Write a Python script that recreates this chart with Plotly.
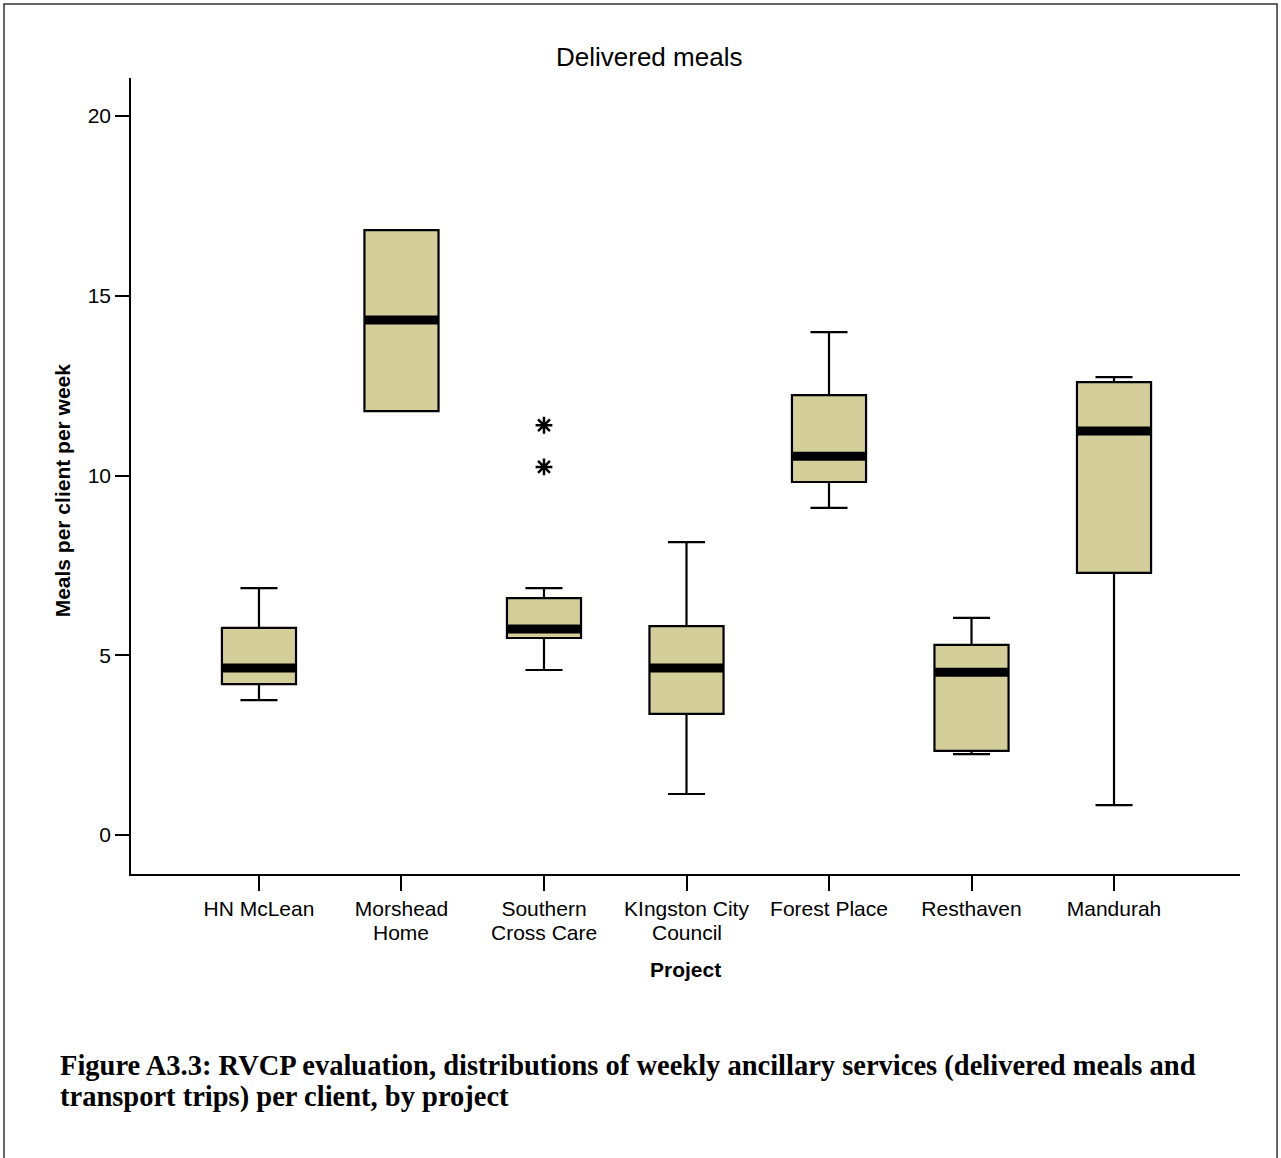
import plotly.graph_objects as go

tick_line1 = ["HN McLean", "Morshead", "Southern", "KIngston City", "Forest Place", "Resthaven", "Mandurah"]
tick_line2 = ["", "Home", "Cross Care", "Council", "", "", ""]
lower = [3.75, 11.79, 4.59, 1.14, 9.10, 2.25, 0.83]
q1 = [4.20, 11.79, 5.48, 3.37, 9.82, 2.34, 7.29]
median = [4.645, 14.33, 5.73, 4.645, 10.54, 4.53, 11.24]
q3 = [5.76, 16.83, 6.59, 5.81, 12.24, 5.29, 12.60]
upper = [6.87, 16.83, 6.87, 8.15, 13.99, 6.04, 12.74]
outlier_x = [2, 2]
outlier_y = [11.40, 10.24]

FILL = "#D3CE9A"
pos = list(range(len(tick_line1)))
BW = 0.52

fig = go.Figure()
fig.add_trace(go.Box(
    x=pos, q1=q1, median=median, q3=q3, lowerfence=lower, upperfence=upper,
    width=BW, whiskerwidth=0.5, fillcolor=FILL,
    line=dict(color="black", width=2.2), boxpoints=False, showlegend=False,
    hoverinfo="skip",
))
for i, m in zip(pos, median):
    fig.add_trace(go.Scatter(
        x=[i - BW / 2, i + BW / 2], y=[m, m], mode="lines",
        line=dict(color="black", width=9), showlegend=False, hoverinfo="skip",
    ))
fig.add_trace(go.Scatter(
    x=outlier_x, y=outlier_y, mode="markers",
    marker=dict(symbol="asterisk-open", size=14, color="black",
                line=dict(color="black", width=2.5)),
    showlegend=False, hoverinfo="skip",
))

annotations = [
    dict(text="Delivered meals", xref="paper", yref="paper", x=0.467, y=1.0264,
         xanchor="center", yanchor="middle", showarrow=False, font=dict(size=26)),
    dict(text="<b>Meals per client per week</b>", xref="paper", yref="paper",
         x=-0.0622, y=0.482, xanchor="center", yanchor="middle", textangle=-90,
         showarrow=False, font=dict(size=21)),
    dict(text="<b>Project</b>", xref="paper", yref="paper", x=0.4999, y=-0.1206,
         xanchor="center", yanchor="middle", showarrow=False, font=dict(size=21)),
    dict(text="<b>Figure A3.3: RVCP evaluation, distributions of weekly ancillary services (delivered meals and</b>",
         xref="paper", yref="paper", x=-0.0659, y=-0.2412, xanchor="left", yanchor="middle",
         showarrow=False, font=dict(family="Liberation Serif, serif", size=28.5)),
    dict(text="<b>transport trips) per client, by project</b>",
         xref="paper", yref="paper", x=-0.0659, y=-0.2801, xanchor="left", yanchor="middle",
         showarrow=False, font=dict(family="Liberation Serif, serif", size=28.5)),
]
for i, t in zip(pos, tick_line2):
    if t:
        annotations.append(dict(text=t, xref="x", yref="paper", x=i, y=-0.0729,
                                xanchor="center", yanchor="middle", showarrow=False,
                                font=dict(size=21)))

fig.update_layout(
    width=1281, height=1158,
    margin=dict(l=131, r=41, t=78, b=284),
    plot_bgcolor="white", paper_bgcolor="white",
    font=dict(family="Liberation Sans, Arial", size=21, color="black"),
    xaxis=dict(
        range=[-0.898, 6.884], tickmode="array", tickvals=pos, ticktext=tick_line1,
        showline=True, linecolor="black", linewidth=1.5, ticks="outside",
        ticklen=15, tickwidth=2, tickcolor="black", showgrid=False, zeroline=False,
        tickfont=dict(size=21),
    ),
    yaxis=dict(
        range=[-1.085, 21.06], tickvals=[0, 5, 10, 15, 20],
        showline=True, linecolor="black", linewidth=1.5, ticks="outside",
        ticklen=14, tickwidth=2, tickcolor="black", showgrid=False, zeroline=False,
        tickfont=dict(size=21),
    ),
    annotations=annotations,
    shapes=[
        dict(type="rect", xref="paper", yref="paper", x0=-0.1145, x1=1.0334, y0=-0.37, y1=1.093,
             line=dict(color="#333333", width=1.5), fillcolor="rgba(0,0,0,0)", layer="below"),
    ],
)

fig.write_html("out.html", config={"displayModeBar": False},
               post_script="document.body.style.margin='0px';")
